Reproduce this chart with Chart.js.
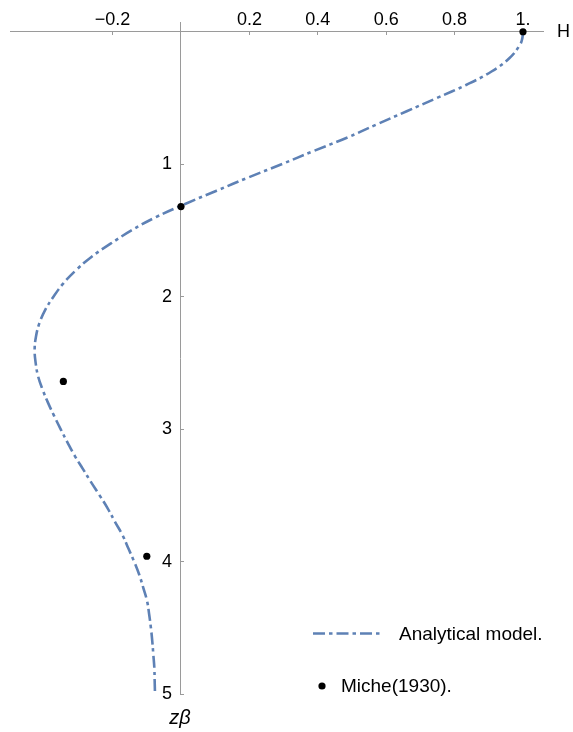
<!DOCTYPE html>
<html><head><meta charset="utf-8">
<script src="https://cdn.jsdelivr.net/npm/chart.js@4"></script>
<style>html,body{margin:0;padding:0;background:#fff;overflow:hidden}canvas{display:block}</style>
</head><body>
<canvas id="c" width="573" height="732"></canvas>
<script>
// ---- data ----
const modelDepth = [0, 0.05, 0.1, 0.2, 0.3, 0.4, 0.5, 0.6, 0.7, 0.8, 0.9, 1.0, 1.1, 1.2, 1.3, 1.4, 1.5, 1.6, 1.7, 1.8, 1.9, 2.0, 2.1, 2.2, 2.3, 2.4, 2.5, 2.6, 2.7, 2.8, 2.9, 3.0, 3.1, 3.2, 3.3, 3.4, 3.5, 3.6, 3.7, 3.8, 3.9, 4.0, 4.1, 4.2, 4.3, 4.4, 4.5, 4.6, 4.7, 4.8, 4.9, 5.0];
const modelH     = [1.0, 0.998, 0.991, 0.960, 0.908, 0.835, 0.748, 0.660, 0.572, 0.485, 0.388, 0.294, 0.197, 0.104, 0.012, -0.074, -0.145, -0.206, -0.262, -0.307, -0.344, -0.373, -0.397, -0.414, -0.424, -0.428, -0.425, -0.418, -0.405, -0.389, -0.371, -0.352, -0.332, -0.311, -0.287, -0.263, -0.238, -0.214, -0.193, -0.171, -0.154, -0.137, -0.122, -0.110, -0.099, -0.093, -0.088, -0.084, -0.081, -0.078, -0.077, -0.076];
const micheDepth = [0, 1.32, 2.64, 3.96];
const micheH     = [1.0, 0.0, -0.344, -0.100];
const xTickValues = [-0.2, 0.2, 0.4, 0.6, 0.8, 1];
const xTickLabels = ['\u22120.2', '0.2', '0.4', '0.6', '0.8', '1.'];
const yTickValues = [1, 2, 3, 4, 5];
const yTickLabels = ['1', '2', '3', '4', '5'];
const seriesNames = ['Analytical model.', 'Miche(1930).'];
const xAxisTitle = 'H';
const yAxisTitle = 'z\u03B2';

// ---- styling ----
const FONT = '"Liberation Sans", Arial, sans-serif';
const AXIS_GRAY = '#9a9a9a';
const BLUE = 'rgb(94,129,181)';
const DASH = [12, 4, 3.5, 4];
const X_MIN = -0.5, X_MAX = 1.06, Y_MIN = -0.07, Y_MAX = 5;
const Y_LABEL_OFFSET = -0.0263; // labels sit 9px left of the vertical axis

const labelFor = (vals, labels) => v => {
  const i = vals.findIndex(t => Math.abs(t - v) < 1e-9);
  return i >= 0 ? labels[i] : '';
};

const decor = {
  id: 'decor',
  afterDraw(chart) {
    const {ctx, chartArea, scales: {x, y}} = chart;
    ctx.save();
    ctx.fillStyle = '#000';
    ctx.font = '18px ' + FONT;
    ctx.textAlign = 'center';
    ctx.textBaseline = 'middle';
    ctx.fillText(xAxisTitle, chartArea.right + 20, y.getPixelForValue(0));
    ctx.font = 'italic 20px ' + FONT;
    ctx.textBaseline = 'alphabetic';
    ctx.fillText(yAxisTitle, x.getPixelForValue(0) - 1, chartArea.bottom + 30);

    // legend
    const dsLine = chart.data.datasets.find(d => d.showLine);
    const dsPts = chart.data.datasets.find(d => !d.showLine);
    ctx.font = '19px ' + FONT;
    ctx.textAlign = 'left';
    ctx.textBaseline = 'middle';
    ctx.strokeStyle = dsLine.borderColor;
    ctx.lineWidth = dsLine.borderWidth;
    ctx.setLineDash(dsLine.borderDash);
    ctx.beginPath();
    ctx.moveTo(313, 633.5);
    ctx.lineTo(383, 633.5);
    ctx.stroke();
    ctx.setLineDash([]);
    ctx.fillText(dsLine.label, 399, 634.5);
    ctx.fillStyle = dsPts.backgroundColor;
    ctx.beginPath();
    ctx.arc(322, 686, dsPts.pointRadius, 0, Math.PI * 2);
    ctx.fill();
    ctx.fillStyle = '#000';
    ctx.fillText(dsPts.label, 341, 687);
    ctx.restore();
  }
};

new Chart(document.getElementById('c'), {
  type: 'scatter',
  data: {
    datasets: [
      {
        label: seriesNames[1],
        data: micheH.map((v, i) => ({x: v, y: micheDepth[i]})),
        showLine: false,
        backgroundColor: '#000',
        borderWidth: 0,
        pointRadius: 3.6,
        order: 0
      },
      {
        label: seriesNames[0],
        data: modelH.map((v, i) => ({x: v, y: modelDepth[i]})),
        showLine: true,
        borderColor: BLUE,
        borderWidth: 2.6,
        borderDash: DASH,
        borderCapStyle: 'butt',
        tension: 0.4,
        pointRadius: 0,
        fill: false,
        order: 1
      }
    ]
  },
  options: {
    responsive: false,
    animation: false,
    devicePixelRatio: 1,
    layout: {padding: {left: 10, right: 29.5, top: 22.5, bottom: 38}},
    plugins: {legend: {display: false}, tooltip: {enabled: false}},
    scales: {
      x: {
        type: 'linear',
        position: {y: 0},
        min: X_MIN, max: X_MAX,
        afterBuildTicks: s => { s.ticks = xTickValues.map(v => ({value: v})); },
        grid: {display: true, drawOnChartArea: false, drawTicks: true, tickLength: 3, color: AXIS_GRAY, lineWidth: 1},
        border: {display: true, color: AXIS_GRAY, width: 1},
        ticks: {
          autoSkip: false, maxRotation: 0, padding: -25.3, color: '#000',
          font: {family: FONT, size: 18},
          callback: labelFor(xTickValues, xTickLabels)
        }
      },
      y: {
        type: 'linear',
        position: {x: 0},
        reverse: true,
        min: Y_MIN, max: Y_MAX,
        afterBuildTicks: s => { s.ticks = yTickValues.map(v => ({value: v})); },
        grid: {display: true, drawOnChartArea: false, drawTicks: true, tickLength: -4, color: AXIS_GRAY, lineWidth: 1},
        border: {display: true, color: AXIS_GRAY, width: 1},
        ticks: {display: false}
      },
      yLabels: {
        type: 'linear',
        position: {x: Y_LABEL_OFFSET},
        reverse: true,
        min: Y_MIN, max: Y_MAX,
        afterBuildTicks: s => { s.ticks = yTickValues.map(v => ({value: v})); },
        grid: {display: false},
        border: {display: false},
        ticks: {
          autoSkip: false, padding: 0, color: '#000',
          font: {family: FONT, size: 18},
          callback: labelFor(yTickValues, yTickLabels)
        }
      }
    }
  },
  plugins: [decor]
});
</script>
</body></html>
